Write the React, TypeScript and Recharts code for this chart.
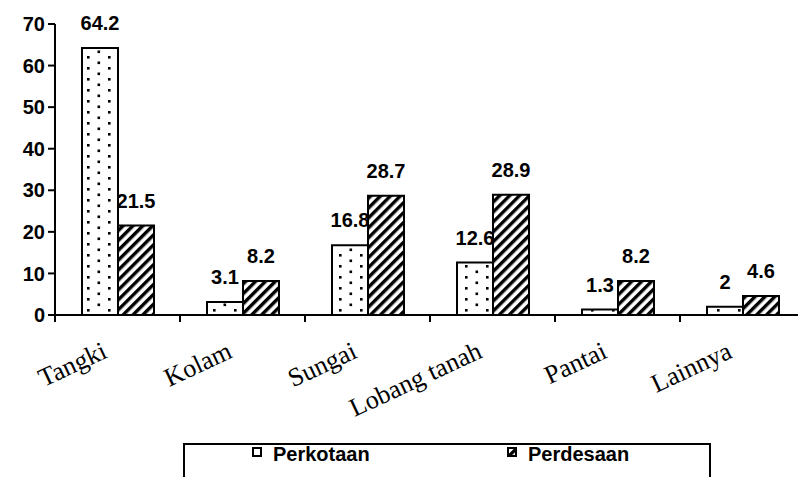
import React from "react";
import { BarChart, Bar, XAxis, YAxis, LabelList } from "recharts";

const categories = ["Tangki", "Kolam", "Sungai", "Lobang tanah", "Pantai", "Lainnya"];
const perkotaan = [64.2, 3.1, 16.8, 12.6, 1.3, 2];
const perdesaan = [21.5, 8.2, 28.7, 28.9, 8.2, 4.6];
const yTicks = [0, 10, 20, 30, 40, 50, 60, 70];

const data = categories.map((c, i) => ({ name: c, perkotaan: perkotaan[i], perdesaan: perdesaan[i] }));

const CHART_W = 810;
const CHART_H = 477;
const MARGIN = { top: 24, right: 5, left: 0, bottom: 0 };
const Y_W = 55;
const PLOT_W = CHART_W - MARGIN.left - MARGIN.right - Y_W;
const HALF_BAND = PLOT_W / categories.length / 2;

const ARIAL = "Arial, 'Liberation Sans', sans-serif";
const TIMES = "'Times New Roman', 'Liberation Serif', serif";

const XTick = (props: any) => {
  const { x, y, payload, index } = props;
  const last = index === categories.length - 1;
  return (
    <g>
      <line x1={x - HALF_BAND} x2={x - HALF_BAND} y1={y} y2={y + 7} stroke="#000" strokeWidth={2} />
      {last && <line x1={x + HALF_BAND} x2={x + HALF_BAND} y1={y} y2={y + 7} stroke="#000" strokeWidth={2} />}
      <text
        transform={`translate(${x - 9},${y + 42}) rotate(-25)`}
        textAnchor="end"
        fontFamily={TIMES}
        fontSize={26}
        fill="#000"
      >
        {payload.value}
      </text>
    </g>
  );
};

export default function App() {
  return (
    <div style={{ position: "absolute", left: 0, top: 0, width: 798, height: 477, overflow: "hidden", background: "#fff" }}>
      <BarChart width={CHART_W} height={CHART_H} data={data} margin={MARGIN} barGap={0} barSize={36}>
        <defs>
          <pattern id="dots" width="21" height="11" patternUnits="userSpaceOnUse" x="0" y="0">
            <rect width="21" height="11" fill="#fff" />
            <rect x="3" y="1" width="2.6" height="2.6" fill="#000" />
            <rect x="13.5" y="6.5" width="2.6" height="2.6" fill="#000" />
          </pattern>
          <pattern id="hatch" width="7" height="7" patternUnits="userSpaceOnUse" patternTransform="rotate(45)">
            <rect width="7" height="7" fill="#fff" />
            <rect x="0" y="0" width="3.4" height="7" fill="#000" />
          </pattern>
        </defs>
        <XAxis
          dataKey="name"
          interval={0}
          height={162}
          tickLine={false}
          tickSize={0}
          tickMargin={0}
          axisLine={{ stroke: "#000", strokeWidth: 2 }}
          tick={<XTick />}
        />
        <YAxis
          width={Y_W}
          domain={[0, 70]}
          ticks={yTicks}
          interval={0}
          tickSize={7}
          tickMargin={3}
          axisLine={{ stroke: "#000", strokeWidth: 2 }}
          tickLine={{ stroke: "#000", strokeWidth: 2 }}
          tick={{ fill: "#000", fontSize: 20, fontWeight: "bold", fontFamily: ARIAL }}
        />
        <Bar dataKey="perkotaan" fill="url(#dots)" stroke="#000" strokeWidth={2} isAnimationActive={false}>
          <LabelList dataKey="perkotaan" position="top" offset={18} fill="#000" fontSize={20} fontWeight="bold" fontFamily={ARIAL} />
        </Bar>
        <Bar dataKey="perdesaan" fill="url(#hatch)" stroke="#000" strokeWidth={2} isAnimationActive={false}>
          <LabelList dataKey="perdesaan" position="top" offset={18} fill="#000" fontSize={20} fontWeight="bold" fontFamily={ARIAL} />
        </Bar>
      </BarChart>
      <div
        style={{
          position: "absolute",
          left: 183,
          top: 443,
          width: 528,
          height: 60,
          border: "2px solid #000",
          boxSizing: "border-box",
        }}
      >
        <svg width={528} height={40} style={{ position: "absolute", left: -2, top: -2 }}>
          <rect x={70} y={5} width={8} height={8} fill="#fff" stroke="#000" strokeWidth={2} />
          <text x={90} y={18} fontFamily={ARIAL} fontWeight="bold" fontSize={20} fill="#000">Perkotaan</text>
          <rect x={325} y={5} width={8} height={8} fill="url(#hatch)" stroke="#000" strokeWidth={2} />
          <text x={345} y={18} fontFamily={ARIAL} fontWeight="bold" fontSize={20} fill="#000">Perdesaan</text>
        </svg>
      </div>
    </div>
  );
}
